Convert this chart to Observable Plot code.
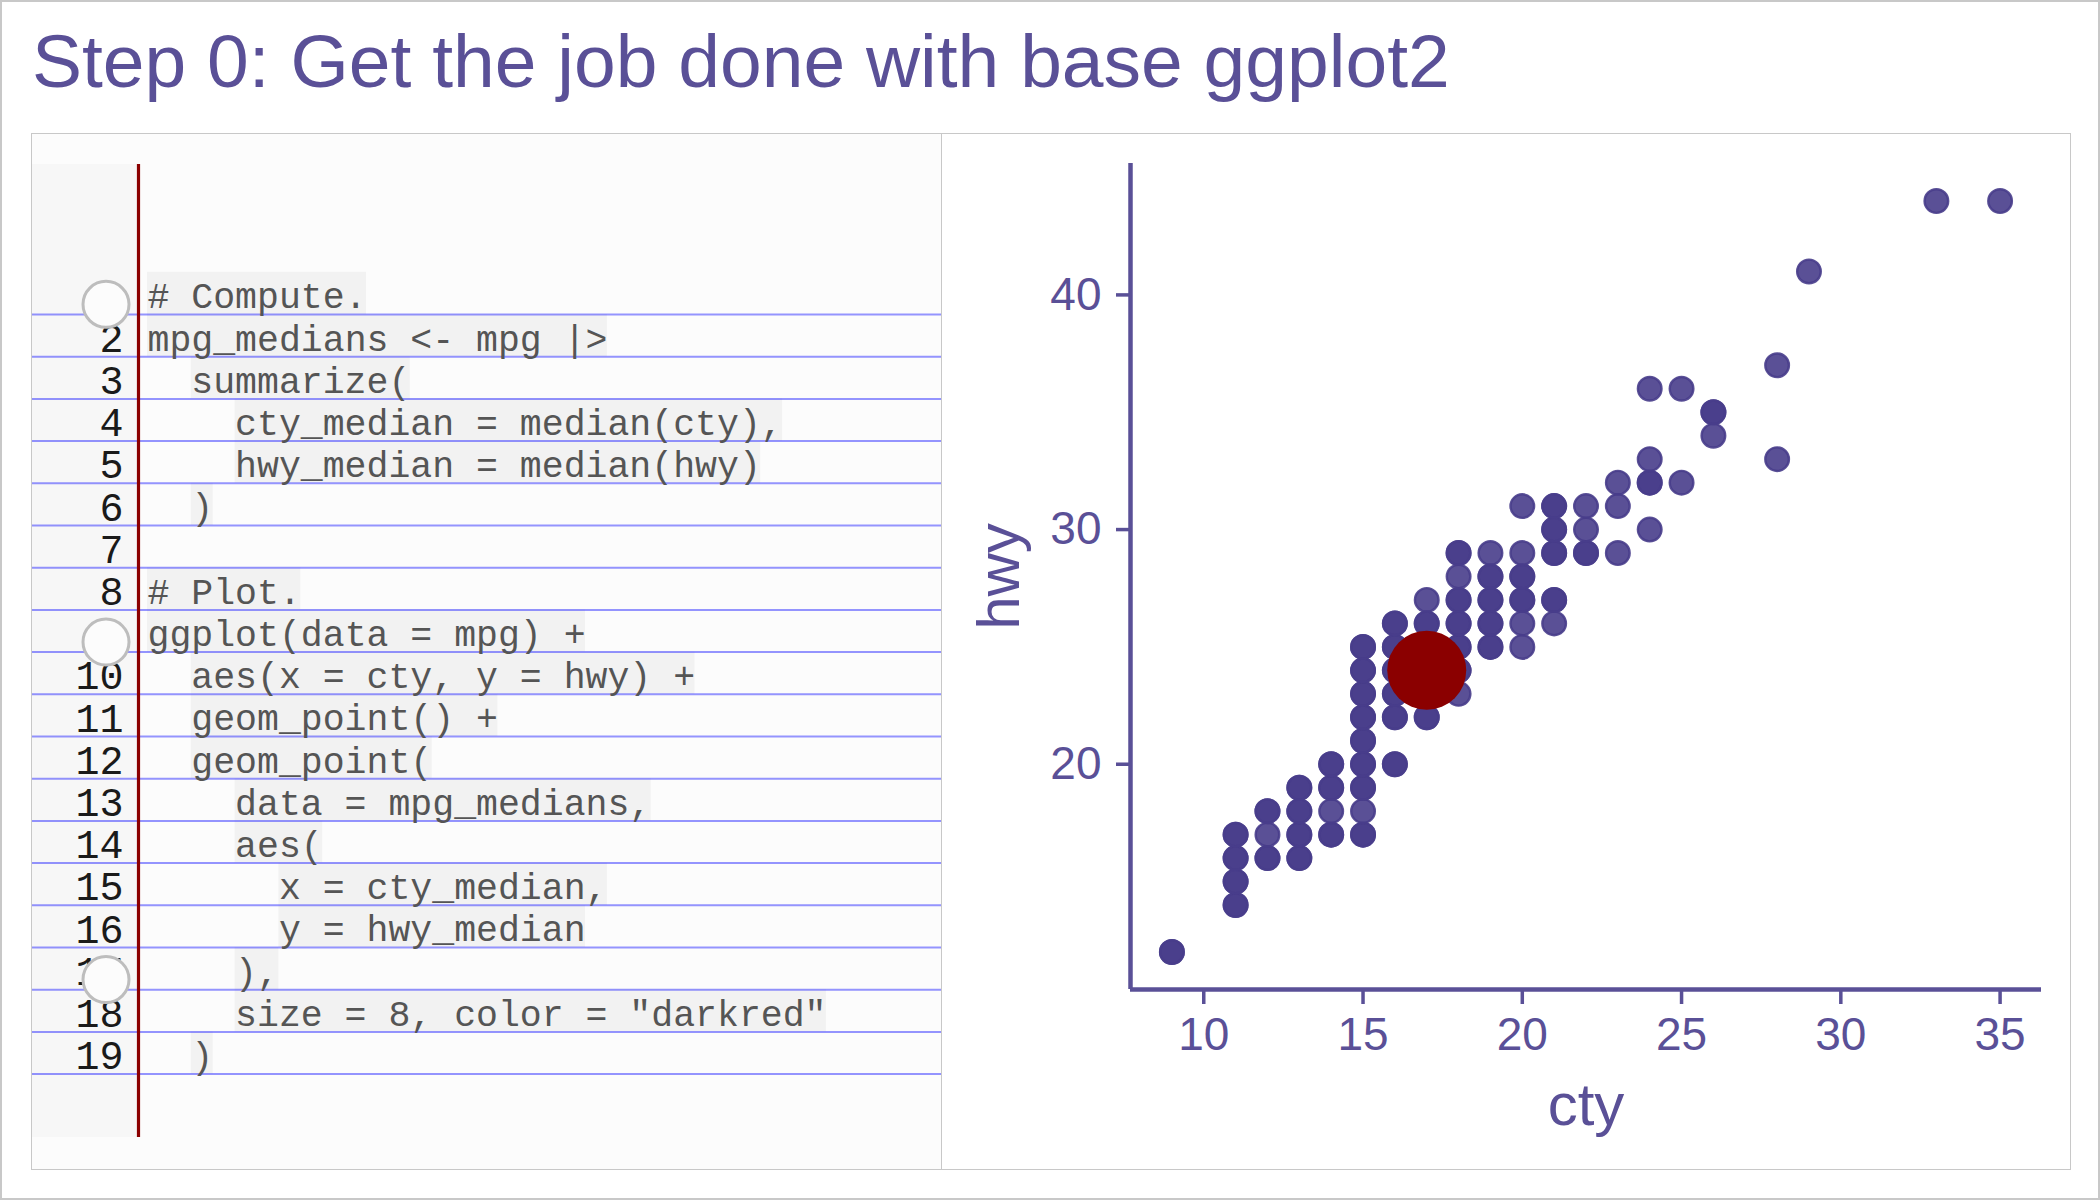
<!DOCTYPE html>
<html>
<head>
<meta charset="utf-8">
<script src="https://cdn.jsdelivr.net/npm/d3@7"></script>
<script src="https://cdn.jsdelivr.net/npm/@observablehq/plot@0.6"></script>
<style>
  html, body { margin: 0; padding: 0; background: #ffffff; }
  #page { position: relative; width: 2100px; height: 1200px; box-sizing: border-box; border: 2px solid #c8c8c8; overflow: hidden; background: #fff; }
  #title { position: absolute; left: 30px; top: 21.5px; font-family: "Liberation Sans", Arial, sans-serif; font-size: 75px; line-height: 75px; color: #5a5097; white-space: nowrap; }
  #frame { position: absolute; left: 29px; top: 131px; width: 2038px; height: 1035px; border: 1.5px solid #c8c8c8; background: #fff; }
  #left { position: absolute; left: 0; top: 0; width: 909px; height: 1035px; }
  #divider { position: absolute; left: 908.5px; top: 0; width: 1.5px; height: 1035px; background: #c8c8c8; }
  #right { position: absolute; left: 910px; top: 0; width: 1128px; height: 1035px; }
  svg { display: block; }
</style>
</head>
<body>
<div id="page">
  <div id="title">Step 0: Get the job done with base ggplot2</div>
  <div id="frame">
    <div id="left"></div>
    <div id="divider"></div>
    <div id="right"></div>
  </div>
</div>
<script>
// ---------------- data ----------------
const titleText = "Step 0: Get the job done with base ggplot2";

const codeLines = [
  "# Compute.",
  "mpg_medians <- mpg |>",
  "  summarize(",
  "    cty_median = median(cty),",
  "    hwy_median = median(hwy)",
  "  )",
  "",
  "# Plot.",
  "ggplot(data = mpg) +",
  "  aes(x = cty, y = hwy) +",
  "  geom_point() +",
  "  geom_point(",
  "    data = mpg_medians,",
  "    aes(",
  "      x = cty_median,",
  "      y = hwy_median",
  "    ),",
  "    size = 8, color = \"darkred\"",
  "  )"
];
const holeLines = [1, 9, 17];

// unique (cty, hwy) points; n = how many overlapping cars (2 = darker dot)
const ptCty = [9, 11,11,11,11, 12,12,12, 13,13,13,13, 14,14,14,14,
  15,15,15,15,15,15,15,15,15, 16,16,16,16,16,16, 17,17,17,17,17,17,
  18,18,18,18,18,18,18, 19,19,19,19,19, 20,20,20,20,20,20,
  21,21,21,21,21, 22,22,22, 23,23,23, 24,24,24,24, 25,25, 26,26, 28,28, 29, 33, 35];
const ptHwy = [12, 14,15,16,17, 16,17,18, 16,17,18,19, 17,18,19,20,
  17,18,19,20,21,22,23,24,25, 20,22,23,24,25,26, 22,23,24,25,26,27,
  23,24,25,26,27,28,29, 25,26,27,28,29, 25,26,27,28,29,31,
  26,27,29,30,31, 29,30,31, 29,31,32, 30,32,33,36, 32,36, 34,35, 33,37, 41, 44, 44];
const ptN = [2, 2,2,2,2, 2,1,2, 2,2,2,2, 2,1,2,2,
  2,1,2,2,2,2,2,2,2, 2,2,2,2,2,2, 2,2,2,2,2,1,
  1,2,2,2,2,1,2, 2,2,2,2,1, 1,1,2,2,1,1,
  1,2,2,2,2, 2,1,1, 1,1,1, 1,2,1,1, 1,1, 1,2, 1,1, 1, 1, 1];
const medianCty = [17];
const medianHwy = [24];

const xTicks = [10, 15, 20, 25, 30, 35];
const yTicks = [20, 30, 40];
const xLabel = "cty";
const yLabel = "hwy";

// ---------------- styles ----------------
const AX = "#5a5097";
const DSB = "#483d8b";
const MONO = "'Liberation Mono', 'DejaVu Sans Mono', monospace";
const SANS = "'Liberation Sans', Arial, sans-serif";

document.getElementById("title").textContent = titleText;

// ---------------- left: code panel ----------------
const rows = codeLines.map((s, i) => {
  const t = s.trimStart();
  return {line: i + 1, indent: s.length - t.length, text: t};
});
const lineNums = rows.map(d => d.line);

const LW = 909, LH = 1035;
const charW = 21.9, textX0 = 115;      // px
const rowH = 42.2, rule0 = 180;        // px (bottom rule of line 1)
const xDom = [-textX0 / charW, (LW - textX0) / charW];
const yDom = [(0 - (rule0 - rowH)) / rowH, (LH - (rule0 - rowH)) / rowH];
const redX = (106 - textX0) / charW;
const numX = (91 - textX0) / charW;
const holeX = (73.5 - textX0) / charW;
const gutTop = (30 - (rule0 - rowH)) / rowH;
const gutBot = (1003 - (rule0 - rowH)) / rowH;

const left = Plot.plot({
  width: LW, height: LH, margin: 0,
  style: {fontFamily: MONO, background: "#fcfcfc"},
  x: {type: "linear", domain: xDom, range: [0, LW], axis: null},
  y: {type: "linear", domain: yDom, range: [0, LH], axis: null},
  marks: [
    Plot.rect([0], {x1: xDom[0], x2: redX, y1: gutTop, y2: gutBot, fill: "#f7f7f7"}),
    Plot.rect(rows.filter(d => d.text.length), {
      x1: d => d.indent, x2: d => d.indent + d.text.length,
      y1: d => d.line - 1, y2: d => d.line, fill: "#f2f2f2"
    }),
    Plot.ruleY(lineNums, {y: d => d, stroke: "#2b2bff", strokeOpacity: 0.5, strokeWidth: 2}),
    Plot.ruleX([redX], {x: d => d, y1: gutTop, y2: gutBot, stroke: "#8b0000", strokeWidth: 3.2}),
    Plot.text(rows.filter(d => d.text.length), {
      x: d => d.indent, y: d => d.line - 0.42, text: "text",
      textAnchor: "start", lineAnchor: "middle", fontSize: 36.5, fill: "#555555"
    }),
    Plot.text(lineNums, {
      x: () => numX, y: d => d - 0.42, text: d => String(d),
      textAnchor: "end", lineAnchor: "middle", fontSize: 40, fill: "#1a1a1a"
    }),
    Plot.dot(holeLines, {x: () => holeX, y: d => d - 0.24, r: 23, fill: "#fcfcfc", stroke: "#bdbdbd", strokeWidth: 3})
  ]
});
document.getElementById("left").appendChild(left);

// ---------------- right: scatter ----------------
const points = [];
ptCty.forEach((c, i) => { for (let k = 0; k < ptN[i]; k++) points.push({cty: c, hwy: ptHwy[i]}); });
const medians = medianCty.map((c, i) => ({cty: c, hwy: medianHwy[i]}));

function expand(vals) {
  const [a, b] = d3.extent(vals);
  const m = (b - a) * 0.05;
  return [a - m, b + m];
}
const xD = expand(ptCty);
const yD = expand(ptHwy);

const right = Plot.plot({
  width: 1128, height: 1035,
  marginLeft: 188, marginRight: 29, marginTop: 29, marginBottom: 180,
  style: {fontFamily: SANS, color: AX, background: "#ffffff"},
  x: {domain: xD},
  y: {domain: yD},
  marks: [
    Plot.dot(points, {x: "cty", y: "hwy", r: 11.8, fill: DSB, fillOpacity: 0.9, stroke: DSB, strokeOpacity: 0.9, strokeWidth: 2.4}),
    Plot.dot(medians, {x: "cty", y: "hwy", r: 39.5, fill: "#8b0000"}),
    Plot.axisX({ticks: xTicks, tickFormat: d => String(d), tickSize: 15, tickPadding: 13, fontSize: 46, strokeWidth: 3.5, color: AX, label: null}),
    Plot.axisY({ticks: yTicks, tickFormat: d => String(d), tickSize: 14, tickPadding: 15, fontSize: 46, strokeWidth: 3.5, color: AX, label: null}),
    Plot.ruleY([yD[0]], {y: d => d, stroke: AX, strokeWidth: 4.5}),
    Plot.ruleX([xD[0]], {x: d => d, stroke: AX, strokeWidth: 4.5}),
    Plot.text([xLabel], {text: d => d, frameAnchor: "bottom", textAnchor: "middle", lineAnchor: "middle", dy: 116, fontSize: 60, fill: AX}),
    Plot.text([yLabel], {text: d => d, frameAnchor: "left", textAnchor: "middle", lineAnchor: "middle", rotate: -90, dx: -131, fontSize: 60, fill: AX})
  ]
});
document.getElementById("right").appendChild(right);
</script>
</body>
</html>
